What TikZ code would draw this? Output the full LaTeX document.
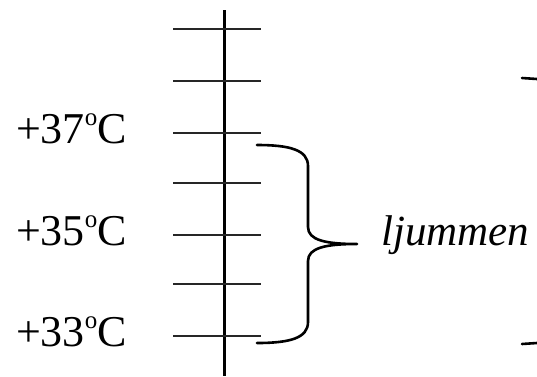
\documentclass[tikz,border=0pt]{standalone}
\usepackage{fontspec}
\setmainfont{Liberation Serif}
\usetikzlibrary{positioning}

\newcommand{\degsign}{\raisebox{17.5pt}{\fontsize{25}{25}\selectfont o}}

\begin{document}
\begin{tikzpicture}[
    x=1pt, y=-1pt,
    font=\fontsize{44}{44}\selectfont,
    axis/.style={line width=3pt, black},
    tick/.style={line width=2pt, black!85},
    brace/.style={line width=2.6pt, black, line cap=round, line join=round},
    temp/.style={anchor=base east, inner sep=0pt},
    word/.style={anchor=base west, inner sep=0pt, font=\fontsize{43}{43}\selectfont\itshape}
  ]
    \useasboundingbox (0,0) rectangle (537,376);
    % thermometer scale
    \draw[axis] (224,10) -- (224,376);
    \foreach \i/\y in {1/29,2/81,3/133,4/183,5/235,6/284,7/336}{
      \coordinate (t\i) at (224,\y);
      \draw[tick] ([xshift=-51pt]t\i) -- ([xshift=37pt]t\i);
    }
    \node[temp] (l37) at ([xshift=-97pt,yshift=-10pt]t3) {+37\degsign C};
    \node[temp] (l35) at ([xshift=-97pt,yshift=-10pt]t5) {+35\degsign C};
    \node[temp] (l33) at ([xshift=-97pt,yshift=-10pt]t7) {+33\degsign C};
    % brace
    \coordinate (btop) at (257,145);
    \coordinate (bbot) at (257,343);
    \coordinate (tip) at (357,244);
    \draw[brace] (btop) .. controls (290,145) and (308,150) .. (308,166) -- (308,227)
      .. controls (308,240) and (325,244) .. (tip)
      .. controls (325,244) and (308,248) .. (308,261) -- (308,322)
      .. controls (308,338) and (290,343) .. (bbot);
    \node[word, right=24pt of tip, anchor=base west, yshift=-1pt] (lj) {ljummen};
    % next brace, cut off
    \coordinate (n1) at (522,78);
    \coordinate (n2) at (522,344);
    \draw[brace] (n1) -- ++(15,1);
    \draw[brace] (n2) -- ++(15,-1);
\end{tikzpicture}
\end{document}
